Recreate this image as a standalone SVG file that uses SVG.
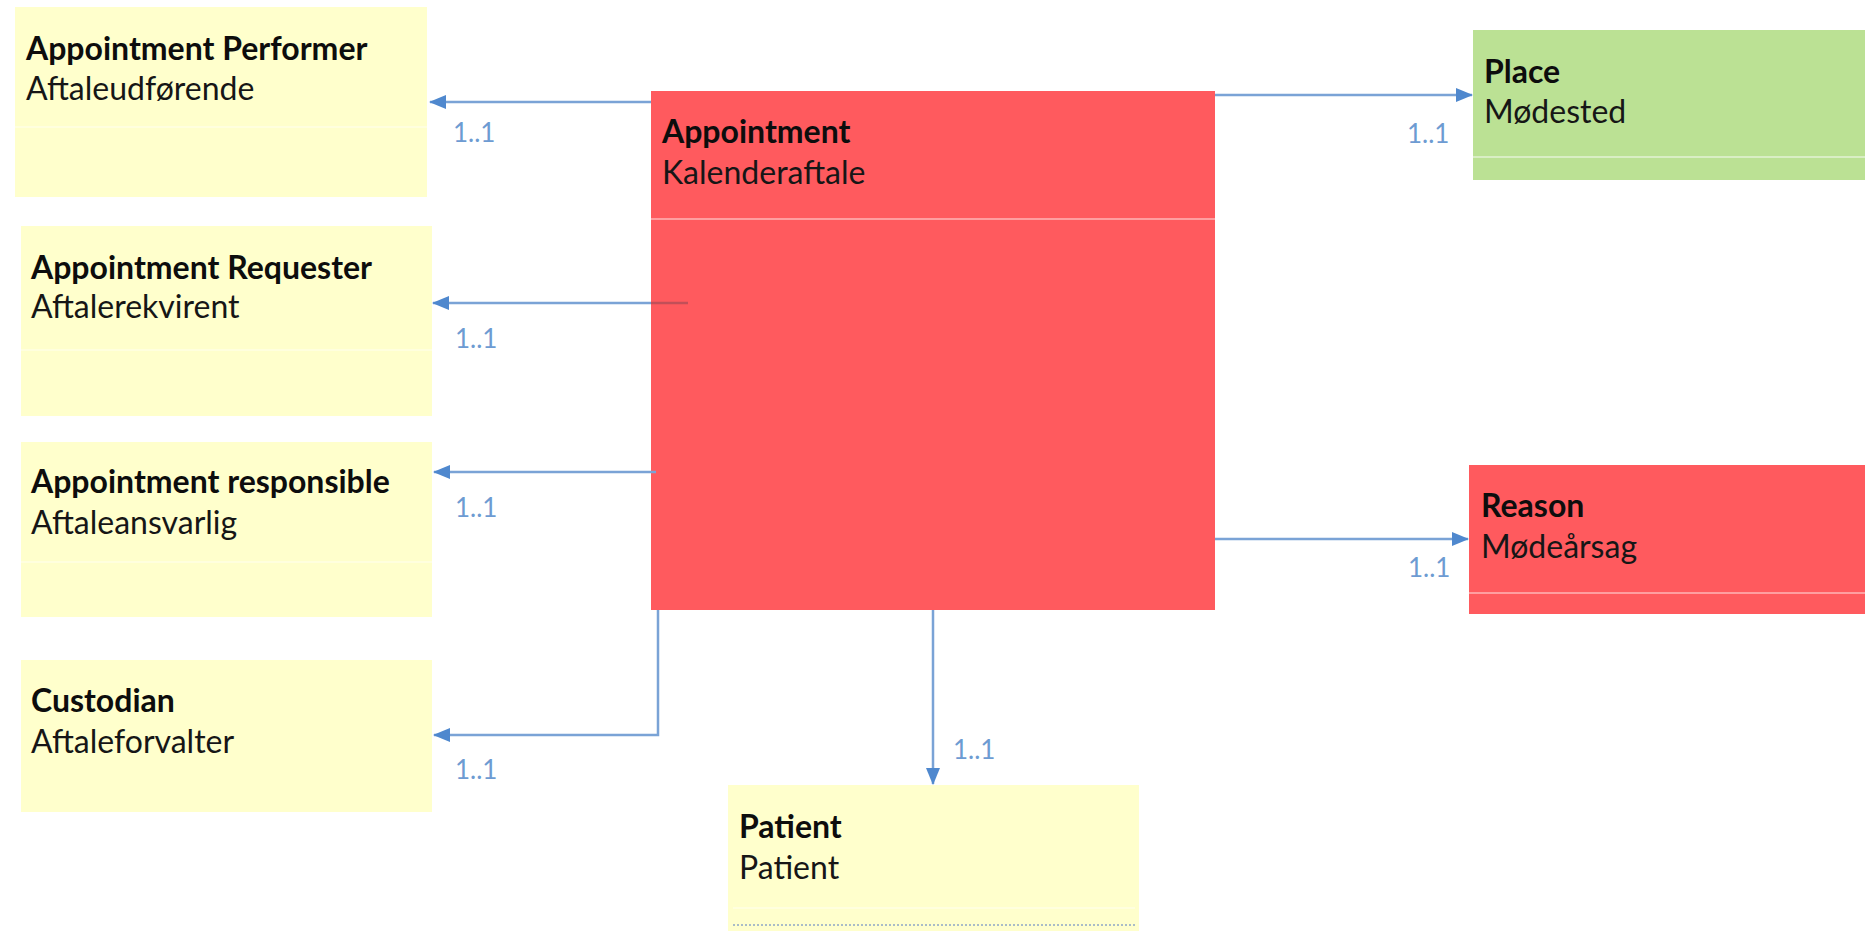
<svg xmlns="http://www.w3.org/2000/svg" width="1865" height="931" viewBox="0 0 1865 931">
  <style>
    .yellow { fill: #FFFFCC; }
    .red { fill: #FF5A5E; }
    .green { fill: #BBE194; }
    .title { font-family: Lato, "Open Sans", sans-serif; font-weight: bold; font-size: 32px; fill: #0d0d0d; }
    .sub { font-family: Lato, "Open Sans", sans-serif; font-size: 32px; fill: #161616; }
    .ydiv { stroke: #FFFFDE; stroke-width: 2; }
    .rdiv { stroke: #FF9EA0; stroke-width: 2; }
    .gdiv { stroke: #D9EEC4; stroke-width: 2; }
    .conn { fill: none; stroke: #7AA3D6; stroke-width: 2.5; }
    .mult { font-family: Lato, "Open Sans", sans-serif; font-size: 26px; fill: #6D9BD2; }
  </style>
  <defs>
    <marker id="arr" viewBox="0 0 17 14" refX="16" refY="7" markerWidth="17" markerHeight="14" markerUnits="userSpaceOnUse" orient="auto">
      <path d="M0,0 L17,7 L0,14 Z" fill="#4F88CE"/>
    </marker>
  </defs>
  <rect width="1865" height="931" fill="#FFFFFF"/>

  <g id="performer">
    <rect class="yellow" x="15" y="7" width="412" height="190"/>
    <line class="ydiv" x1="15" y1="127" x2="427" y2="127"/>
    <text class="title" x="26" y="60">Appointment Performer</text>
    <text class="sub" x="26" y="100">Aftaleudførende</text>
  </g>
  <g id="requester">
    <rect class="yellow" x="21" y="226" width="411" height="190"/>
    <line class="ydiv" x1="21" y1="350" x2="432" y2="350"/>
    <text class="title" x="31" y="279">Appointment Requester</text>
    <text class="sub" x="31" y="318">Aftalerekvirent</text>
  </g>
  <g id="responsible">
    <rect class="yellow" x="21" y="442" width="411" height="175"/>
    <line class="ydiv" x1="21" y1="562" x2="432" y2="562"/>
    <text class="title" x="31" y="493">Appointment responsible</text>
    <text class="sub" x="31" y="534">Aftaleansvarlig</text>
  </g>
  <g id="custodian">
    <rect class="yellow" x="21" y="660" width="411" height="152"/>
    <text class="title" x="31" y="712">Custodian</text>
    <text class="sub" x="31" y="753">Aftaleforvalter</text>
  </g>
  <g id="appointment">
    <rect class="red" x="651" y="91" width="564" height="519"/>
    <line class="rdiv" x1="651" y1="219" x2="1215" y2="219"/>
    <text class="title" x="662" y="143">Appointment</text>
    <text class="sub" x="662" y="184">Kalenderaftale</text>
  </g>
  <g id="place">
    <rect class="green" x="1473" y="30" width="392" height="150"/>
    <line class="gdiv" x1="1473" y1="157" x2="1865" y2="157"/>
    <text class="title" x="1484" y="83">Place</text>
    <text class="sub" x="1484" y="123">Mødested</text>
  </g>
  <g id="reason">
    <rect class="red" x="1469" y="465" width="396" height="149"/>
    <line class="rdiv" x1="1469" y1="593" x2="1865" y2="593"/>
    <text class="title" x="1481" y="517">Reason</text>
    <text class="sub" x="1481" y="558">Mødeårsag</text>
  </g>
  <g id="patient">
    <rect class="yellow" x="728" y="785" width="411" height="146"/>
    <line class="ydiv" x1="733" y1="908" x2="1135" y2="908"/>
    <line x1="733" y1="925" x2="1135" y2="925" stroke="#A9BCC8" stroke-width="2" stroke-dasharray="2 2"/>
    <text class="title" x="739" y="838">Patient</text>
    <text class="sub" x="739" y="879">Patient</text>
  </g>

  <g id="connectors">
    <path class="conn" d="M651,102 H430" marker-end="url(#arr)"/>
    <path d="M688,303 H651" fill="none" stroke="#C24F58" stroke-width="2.5"/>
    <path class="conn" d="M651,303 H433" marker-end="url(#arr)"/>
    <path class="conn" d="M656,472 H434" marker-end="url(#arr)"/>
    <path class="conn" d="M658,610 V735 H434" marker-end="url(#arr)"/>
    <path class="conn" d="M933,610 V784" marker-end="url(#arr)"/>
    <path class="conn" d="M1215,95 H1472" marker-end="url(#arr)"/>
    <path class="conn" d="M1215,539 H1468" marker-end="url(#arr)"/>
    <text class="mult" x="453" y="142">1..1</text>
    <text class="mult" x="455" y="348">1..1</text>
    <text class="mult" x="455" y="517">1..1</text>
    <text class="mult" x="455" y="779">1..1</text>
    <text class="mult" x="953" y="759">1..1</text>
    <text class="mult" x="1407" y="143">1..1</text>
    <text class="mult" x="1408" y="577">1..1</text>
  </g>
</svg>
